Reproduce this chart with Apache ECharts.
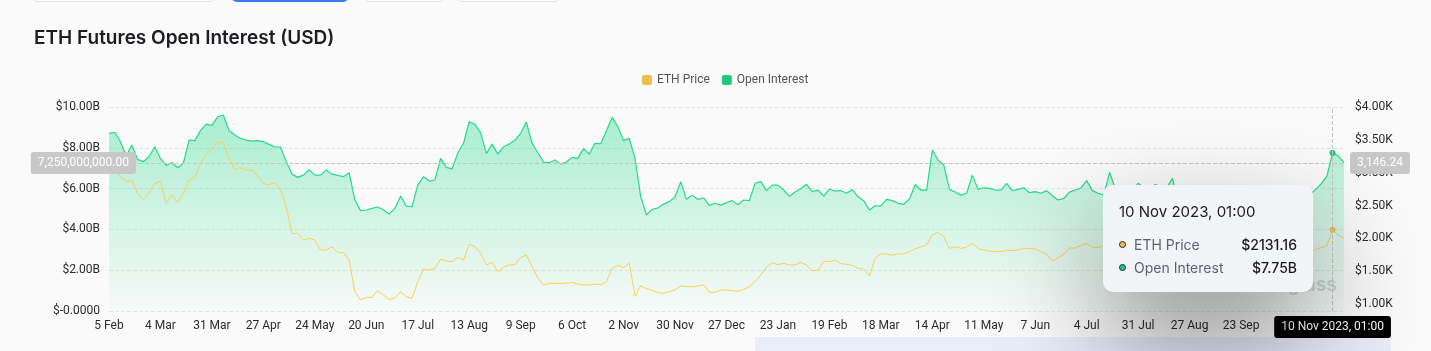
<!DOCTYPE html>
<html>
<head>
<meta charset="utf-8">
<title>ETH Futures Open Interest (USD)</title>
<script src="https://cdn.jsdelivr.net/npm/echarts@6/dist/echarts.min.js"></script>
<style>
  html, body { margin: 0; padding: 0; background: #fafafa; }
  #wrap { position: relative; width: 1431px; height: 351px; overflow: hidden; }
  #chart { width: 1431px; height: 351px; }
  .tab { position: absolute; top: -30px; height: 32px; box-sizing: border-box; border: 1px solid #e3e3e6; border-radius: 6px; background: #fff; }
</style>
</head>
<body>
<div id="wrap">
  <div id="chart"></div>
  <div class="tab" style="left:32px;width:183px"></div>
  <div class="tab" style="left:231px;width:118px;border:2px solid #3b7cf6"></div>
  <div class="tab" style="left:364px;width:81px"></div>
  <div class="tab" style="left:457px;width:103px"></div>
</div>
<script>
// 每3天一个点，从 2022-02-05 到 2023-11-16（图上读出的近似值）
const priceValues = [
  3010, 3120, 2935, 2864, 2889, 2686, 2585, 2686, 2838, 2864,
  2534, 2661, 2549, 2686, 2889, 2930, 3127, 3285, 3356, 3477,
  3447, 3219, 3041, 3077, 3041, 3041, 2945, 2838, 2813, 2848,
  2747, 2483, 2077, 2077, 1976, 2001, 1976, 1824, 1824, 1874,
  1788, 1783, 1671, 1190, 1063, 1103, 1103, 1205, 1139, 1073,
  1093, 1190, 1113, 1088, 1342, 1534, 1519, 1545, 1682, 1656,
  1646, 1712, 1671, 1910, 1874, 1773, 1595, 1636, 1494, 1560,
  1595, 1600, 1707, 1748, 1570, 1403, 1291, 1316, 1316, 1316,
  1321, 1331, 1306, 1291, 1291, 1306, 1296, 1337, 1545, 1590,
  1555, 1621, 1120, 1281, 1235, 1215, 1174, 1164, 1190, 1215,
  1276, 1266, 1266, 1276, 1291, 1184, 1179, 1215, 1215, 1205,
  1195, 1225, 1261, 1342, 1443, 1565, 1631, 1600, 1621, 1595,
  1595, 1636, 1595, 1509, 1514, 1651, 1646, 1671, 1616, 1606,
  1590, 1545, 1535, 1430, 1697, 1768, 1763, 1743, 1763, 1763,
  1798, 1844, 1869, 1900, 2052, 2093, 2027, 1849, 1874, 1849,
  1869, 1925, 1844, 1824, 1808, 1798, 1798, 1824, 1814, 1824,
  1849, 1849, 1839, 1798, 1758, 1656, 1707, 1763, 1854, 1854,
  1890, 1925, 1864, 1864, 1890, 1930, 1895, 1865, 1855, 1870,
  1855, 1835, 1830, 1855, 1850, 1825, 1680, 1665, 1655, 1655,
  1705, 1630, 1630, 1635, 1550, 1625, 1620, 1625, 1595, 1595,
  1670, 1665, 1645, 1635, 1565, 1555, 1565, 1605, 1780, 1800,
  1795, 1830, 1860, 1890, 2131.16, 2052, 2002
];

// 持仓量，单位：十亿美元
const oiValues = [
  8.71, 8.76, 8.31, 7.60, 8.13, 7.43, 7.32, 7.56, 8.05, 7.48,
  7.14, 7.28, 7.02, 7.24, 8.38, 8.35, 8.84, 9.16, 9.10, 9.52,
  9.61, 8.84, 8.63, 8.46, 8.38, 8.33, 8.35, 8.30, 8.17, 8.05,
  8.04, 7.32, 6.71, 6.55, 6.66, 6.91, 6.66, 6.66, 6.91, 6.71,
  6.65, 6.58, 6.78, 5.44, 4.92, 4.95, 5.03, 5.10, 4.95, 4.75,
  5.03, 5.63, 5.14, 5.11, 6.17, 6.58, 6.37, 6.42, 7.48, 7.04,
  6.97, 7.73, 8.22, 9.28, 9.15, 8.74, 7.71, 8.18, 7.69, 8.05,
  8.18, 8.38, 8.71, 9.26, 8.22, 7.76, 7.30, 7.27, 7.40, 7.20,
  7.30, 7.53, 7.48, 7.97, 7.69, 8.22, 8.20, 8.84, 9.49, 9.03,
  8.35, 8.46, 7.48, 5.60, 4.72, 4.98, 5.05, 5.24, 5.36, 5.60,
  6.34, 5.47, 5.68, 5.47, 5.55, 5.18, 5.28, 5.19, 5.31, 5.41,
  5.21, 5.44, 5.41, 6.26, 6.34, 5.90, 6.17, 6.17, 5.93, 5.63,
  5.83, 6.01, 6.21, 5.85, 5.93, 5.63, 5.98, 5.88, 5.91, 5.77,
  5.96, 5.60, 5.41, 4.95, 5.16, 5.14, 5.47, 5.41, 5.28, 5.23,
  5.49, 6.20, 5.93, 5.93, 7.89, 7.40, 7.15, 5.96, 5.83, 5.68,
  5.77, 6.66, 5.96, 6.04, 6.01, 5.93, 5.93, 6.26, 5.90, 5.96,
  6.04, 5.80, 5.85, 5.77, 5.90, 5.65, 5.44, 5.52, 5.83, 5.93,
  6.03, 6.39, 5.90, 5.77, 5.69, 6.80, 6.00, 5.90, 6.00, 5.95,
  6.26, 6.05, 6.00, 6.20, 6.10, 6.05, 6.50, 5.30, 5.20, 5.25,
  5.20, 5.10, 5.15, 5.00, 5.05, 5.10, 5.00, 4.95, 5.05, 5.10,
  5.20, 5.30, 5.15, 5.10, 5.20, 5.25, 5.30, 5.50, 5.65, 5.60,
  5.70, 5.95, 6.23, 6.60, 7.75, 7.60, 7.27
];

const months = ['Jan', 'Feb', 'Mar', 'Apr', 'May', 'Jun', 'Jul', 'Aug', 'Sep', 'Oct', 'Nov', 'Dec'];
const dayMs = 86400000;
const startDay = Date.UTC(2022, 1, 5);
// 11月26日到11月30日之间是4天，其它都是3天
const categories = oiValues.map((_, i) =>
  new Date(startDay + (i * 3 + (i > 98 ? 1 : 0)) * dayMs).toISOString().slice(0, 10));

const tipIndex = 214;      // 10 Nov 2023
const tipOiLevel = 7.25;   // 十字线所在的高度

function shortDate(s) {
  const p = s.split('-');
  return +p[2] + ' ' + months[+p[1] - 1];
}
function longDate(s) {
  const p = s.split('-');
  return +p[2] + ' ' + months[+p[1] - 1] + ' ' + p[0] + ', 01:00';
}
function money(v) {
  return v.toLocaleString('en-US', { minimumFractionDigits: 2, maximumFractionDigits: 2 });
}

const green = '#22c77f';
const yellow = '#f2bd47';

const chart = echarts.init(document.getElementById('chart'));

const option = {
  backgroundColor: '#fafafa',
  animation: false,
  textStyle: { fontFamily: 'Roboto' },
  title: {
    text: 'ETH Futures Open Interest (USD)',
    left: 29,
    top: 24,
    textStyle: { fontFamily: 'Inter', fontSize: 19, fontWeight: 600, color: '#1d1d22' }
  },
  legend: {
    data: ['ETH Price', 'Open Interest'],
    left: 637,
    top: 69,
    icon: 'roundRect',
    itemWidth: 10,
    itemHeight: 10,
    itemGap: 12,
    textStyle: { fontFamily: 'Roboto', fontSize: 12, color: '#555' }
  },
  grid: { left: 109, right: 87, top: 107, bottom: 40 },
  tooltip: {
    trigger: 'axis',
    alwaysShowContent: true,
    backgroundColor: '#f3f4f7',
    borderWidth: 0,
    padding: 0,
    extraCssText: 'border-radius:10px;box-shadow:0 50px 110px rgba(0,0,0,0.45);',
    position: function (point, params, dom, rect, size) {
      return [point[0] - size.contentSize[0] - 20, 185];
    },
    axisPointer: {
      type: 'cross',
      lineStyle: { color: '#c4c4c4', type: 'dashed', width: 1 },
      crossStyle: { color: '#c4c4c4', type: 'dashed', width: 1 },
      label: {
        backgroundColor: '#c8c8c8',
        color: '#fff',
        fontFamily: 'Roboto',
        fontSize: 12,
        padding: [5, 7, 5, 7],
        borderRadius: 3
      }
    },
    formatter: function (params) {
      const byName = {};
      params.forEach(p => { byName[p.seriesName] = p; });
      const row = (color, name, val) =>
        '<div style="display:flex;justify-content:space-between;align-items:center;height:23px">' +
        '<span style="display:flex;align-items:center;color:#5e6079">' +
        '<i style="display:inline-block;width:5px;height:5px;border-radius:50%;background:' + color +
        ';border:1px solid #2a2a2a;margin-right:8px"></i>' + name + '</span>' +
        '<span style="color:#1b1b1f;font-weight:500">' + val + '</span></div>';
      return '<div style="width:178px;padding:16px 16px 13px;font-family:Inter;font-size:14px">' +
        '<div style="font-size:15px;line-height:22px;color:#1b1b1f;margin-bottom:10px">' +
        longDate(params[0].axisValue) + '</div>' +
        row(yellow, 'ETH Price', '$' + byName['ETH Price'].value.toFixed(2)) +
        row(green, 'Open Interest', '$' + byName['Open Interest'].value.toFixed(2) + 'B') +
        '</div>';
    }
  },
  xAxis: {
    type: 'category',
    data: categories,
    boundaryGap: false,
    axisLine: { show: false },
    axisTick: { show: false },
    axisLabel: {
      interval: 8,
      margin: 9,
      fontSize: 12,
      color: '#2b2b2b',
      formatter: shortDate
    },
    axisPointer: {
      label: {
        backgroundColor: '#000',
        margin: 5,
        formatter: p => longDate(p.value)
      }
    }
  },
  yAxis: [
    {
      type: 'value',
      min: 0,
      max: 10,
      interval: 2,
      axisLine: { show: false },
      axisTick: { show: false },
      splitLine: { lineStyle: { color: '#e6e6e6', type: 'dashed' } },
      axisLabel: {
        margin: 9,
        fontSize: 12,
        color: '#2b2b2b',
        formatter: v => v === 0 ? '$-0.0000' : '$' + v.toFixed(2) + 'B'
      },
      axisPointer: {
        label: {
          margin: -27,
          formatter: p => money(Math.round(p.value * 1e3) * 1e6)
        }
      }
    },
    {
      type: 'value',
      position: 'right',
      min: 895.4182,
      max: 4000,
      splitNumber: 6,
      axisLine: { show: false },
      axisTick: { show: false },
      splitLine: { show: false },
      axisLabel: {
        margin: 11,
        fontSize: 12,
        color: '#2b2b2b',
        showMinLabel: false,
        formatter: v => '$' + (v / 1000).toFixed(2) + 'K'
      },
      axisPointer: {
        label: {
          margin: 6,
          formatter: p => money(Math.round(p.value * 100) / 100)
        }
      }
    }
  ],
  graphic: [
    {
      type: 'rect',
      left: 755,
      top: 337,
      silent: true,
      shape: { width: 636, height: 20 },
      style: { fill: '#e8edf9' }
    },
    {
      type: 'text',
      right: 94,
      top: 276,
      silent: true,
      style: { text: 'coinglass', fill: 'rgba(150,150,150,0.35)', font: 'bold 19px Inter' }
    }
  ],
  series: [
    {
      name: 'Open Interest',
      type: 'line',
      yAxisIndex: 0,
      data: oiValues,
      showSymbol: false,
      symbol: 'circle',
      symbolSize: 5,
      itemStyle: { color: green },
      lineStyle: { color: green, width: 1.2 },
      areaStyle: {
        color: new echarts.graphic.LinearGradient(0, 0, 0, 1, [
          { offset: 0, color: 'rgba(34,199,127,0.55)' },
          { offset: 1, color: 'rgba(34,199,127,0.02)' }
        ])
      },
      emphasis: { focus: 'none', lineStyle: { width: 1.2 } }
    },
    {
      name: 'ETH Price',
      type: 'line',
      yAxisIndex: 1,
      data: priceValues,
      showSymbol: false,
      symbol: 'circle',
      symbolSize: 5,
      itemStyle: { color: yellow },
      lineStyle: { color: yellow, width: 1 },
      emphasis: { focus: 'none', lineStyle: { width: 1 } }
    }
  ]
};

chart.setOption(option);

const px = chart.convertToPixel({ xAxisIndex: 0 }, categories[tipIndex]);
const py = chart.convertToPixel({ yAxisIndex: 0 }, tipOiLevel);
chart.dispatchAction({ type: 'showTip', x: px, y: py });
</script>
</body>
</html>
